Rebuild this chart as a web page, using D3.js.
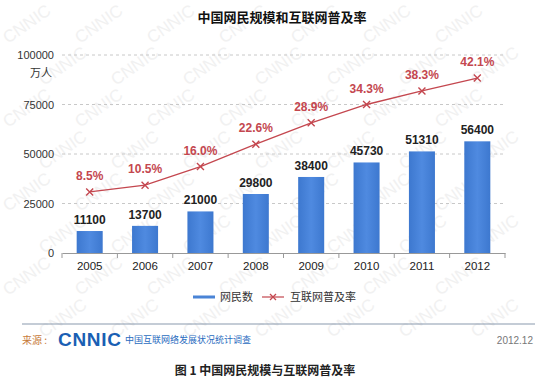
<!DOCTYPE html>
<html><head><meta charset="utf-8">
<script src="https://cdn.jsdelivr.net/npm/d3@7"></script>
<style>body{margin:0;background:#fff;}svg{display:block;font-family:"Noto Sans CJK SC","DejaVu Sans",sans-serif;}</style>
</head><body>
<svg id="c" width="550" height="383"></svg>
<script>
const years = ["2005","2006","2007","2008","2009","2010","2011","2012"];
const users = [11100,13700,21000,29800,38400,45730,51310,56400];
const rates = [8.5,10.5,16.0,22.6,28.9,34.3,38.3,42.1];
const yTicks = [0,25000,50000,75000,100000];

const svg = d3.select("#c");

// watermark (kept fully inside the canvas)
const wm = svg.append("g").attr("fill","#f1f1f1").attr("font-family","Liberation Sans, Arial, sans-serif").attr("font-size",17);
for (let r = 0; r < 10; r++) {
  for (let c = -1; c < 9; c++) {
    const x = c*72 + (r%2)*36 + 8, y = r*42 + 44;
    if (x < 3 || x + 58 > 547 || y - 42 < 2 || y + 6 > 380) continue;
    wm.append("text").attr("transform",`translate(${x},${y}) rotate(-35)`).text("CNNIC");
  }
}

const x = d3.scaleBand().domain(years).range([62,505]).paddingInner(0.53).paddingOuter(0.265);
const y = d3.scaleLinear().domain([0,100000]).range([253,55]);
const y2 = d3.scaleLinear().domain([-9.5,48.9]).range([253,55]);

// title
svg.append("text").attr("x",282).attr("y",22).attr("text-anchor","middle")
  .attr("font-size",13).attr("font-weight","bold").attr("fill","#111").text("中国网民规模和互联网普及率");

// grid
svg.append("g").selectAll("line").data(yTicks.slice(1)).join("line")
  .attr("x1",62).attr("x2",505).attr("y1",d=>y(d)).attr("y2",d=>y(d))
  .attr("stroke","#c8c8c8").attr("stroke-dasharray","3,3");

// y axis labels
const ya = svg.append("g").attr("transform","translate(62,0)")
  .call(d3.axisLeft(y).tickValues(yTicks).tickFormat(d3.format("d")).tickSize(0).tickPadding(8));
ya.select(".domain").remove();
ya.selectAll("text").attr("font-size",11).attr("fill","#333").attr("font-family","Liberation Sans, Arial, sans-serif");
svg.append("text").attr("x",52).attr("y",77).attr("text-anchor","end").attr("font-size",11).attr("fill","#333").text("万人");

// x axis
const xa = svg.append("g").attr("transform","translate(0,253)")
  .call(d3.axisBottom(x).tickSize(0).tickPadding(9));
xa.select(".domain").attr("stroke","#999");
xa.selectAll("text").attr("font-size",11.5).attr("fill","#222").attr("font-family","Liberation Sans, Arial, sans-serif");
const step = x.step();
svg.append("g").selectAll("line").data(d3.range(years.length+1)).join("line")
  .attr("x1",d=>62+d*step).attr("x2",d=>62+d*step).attr("y1",253).attr("y2",258).attr("stroke","#999");

// bars
const grad = svg.append("defs").append("linearGradient").attr("id","bg").attr("x1",0).attr("x2",1);
grad.append("stop").attr("offset","0%").attr("stop-color","#3d78cf");
grad.append("stop").attr("offset","50%").attr("stop-color","#4f8ae0");
grad.append("stop").attr("offset","100%").attr("stop-color","#3d78cf");
svg.append("g").selectAll("rect").data(years).join("rect")
  .attr("x",d=>x(d)).attr("width",x.bandwidth())
  .attr("y",(d,i)=>y(users[i])).attr("height",(d,i)=>253-y(users[i]))
  .attr("fill","url(#bg)");
svg.append("g").selectAll("text").data(years).join("text")
  .attr("x",d=>x(d)+x.bandwidth()/2).attr("y",(d,i)=>y(users[i])-7)
  .attr("text-anchor","middle").attr("font-size",12).attr("font-weight","bold").attr("fill","#222")
  .attr("font-family","Liberation Sans, Arial, sans-serif")
  .text((d,i)=>users[i]);

// line
const lc = "#c4474f";
const line = d3.line().x((d,i)=>x(years[i])+x.bandwidth()/2).y(d=>y2(d));
svg.append("path").datum(rates).attr("d",line).attr("fill","none").attr("stroke",lc).attr("stroke-width",1.3);
const mk = svg.append("g").selectAll("g").data(rates).join("g")
  .attr("transform",(d,i)=>`translate(${x(years[i])+x.bandwidth()/2},${y2(d)})`);
mk.append("path").attr("d","M-3.5,-3.5L3.5,3.5M-3.5,3.5L3.5,-3.5").attr("stroke",lc).attr("stroke-width",1.4);
svg.append("g").selectAll("text").data(rates).join("text")
  .attr("x",(d,i)=>x(years[i])+x.bandwidth()/2).attr("y",d=>y2(d)-12)
  .attr("text-anchor","middle").attr("font-size",12).attr("font-weight","bold").attr("fill",lc)
  .attr("font-family","Liberation Sans, Arial, sans-serif")
  .text(d=>d.toFixed(1)+"%");

// legend
svg.append("rect").attr("x",193).attr("y",295.5).attr("width",22).attr("height",3).attr("fill","#4a84d6");
svg.append("text").attr("x",220).attr("y",301).attr("font-size",11).attr("fill","#333").text("网民数");
svg.append("line").attr("x1",262).attr("x2",284).attr("y1",297).attr("y2",297).attr("stroke",lc).attr("stroke-width",1.2);
svg.append("path").attr("d","M270,294L276,300M270,300L276,294").attr("stroke",lc).attr("stroke-width",1.3);
svg.append("text").attr("x",290).attr("y",301).attr("font-size",11).attr("fill","#333").text("互联网普及率");

// footer
svg.append("line").attr("x1",22).attr("x2",535).attr("y1",324).attr("y2",324).attr("stroke","#8a9aae").attr("stroke-width",1.2);
svg.append("text").attr("x",22).attr("y",344).attr("font-size",10).attr("fill","#c77a3a").text("来源 :");
svg.append("text").attr("x",58).attr("y",346).attr("font-size",19).attr("font-weight","bold").attr("fill","#1a5fb4")
  .attr("font-family","Liberation Sans, Arial, sans-serif").attr("letter-spacing",-1).attr("textLength",62).text("CNNIC");
svg.append("text").attr("x",125).attr("y",343).attr("font-size",9).attr("fill","#2a6cc0").text("中国互联网络发展状况统计调查");
svg.append("text").attr("x",533).attr("y",344).attr("text-anchor","end").attr("font-size",10).attr("fill","#777")
  .attr("font-family","Liberation Sans, Arial, sans-serif").text("2012.12");

svg.append("text").attr("x",265).attr("y",375).attr("text-anchor","middle").attr("font-size",12).attr("font-weight","bold").attr("fill","#222")
  .text("图 1  中国网民规模与互联网普及率");
</script>
</body></html>
